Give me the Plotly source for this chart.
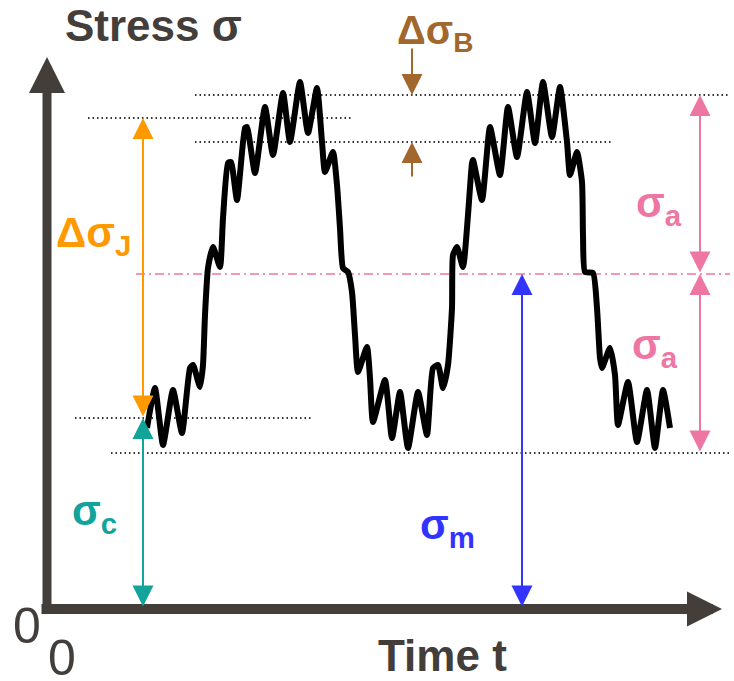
import plotly.graph_objects as go

# ---------------- data (time t, stress sigma) ----------------
time_t = [102, 110, 118, 128, 137, 145, 148, 155, 158, 160, 163, 168, 175, 178, 183, 186,
          192, 200, 202, 210, 220, 228, 238, 245, 255, 263, 272, 277, 280, 288, 292, 295,
          298, 303, 307, 310, 313, 322, 325, 328, 340, 347, 355, 363, 373, 382, 388, 393,
          398, 403, 407, 408, 412, 418, 423, 427, 428, 437, 445, 455, 463, 472, 482, 490,
          498, 507, 515, 522, 525, 532, 537, 538, 540, 548, 552, 555, 557, 565, 570, 573,
          583, 592, 602, 610, 618, 625]
stress = [180, 220, 163, 218, 175, 240, 243, 221, 243, 293, 340, 361, 341, 390, 445, 446,
          408, 480, 481, 435, 501, 453, 515, 466, 526, 475, 520, 466, 436, 456, 423, 380,
          340, 336, 316, 273, 236, 261, 230, 186, 228, 170, 216, 160, 216, 173, 240, 243,
          220, 243, 300, 353, 361, 341, 393, 445, 448, 408, 481, 433, 501, 451, 516, 465,
          526, 471, 521, 466, 433, 456, 426, 373, 336, 335, 300, 250, 240, 260, 233, 183,
          226, 166, 218, 160, 218, 180]

# characteristic stress levels
sigma_max = 513      # upper peak level
sigma_j_top = 490    # top of the jump range
sigma_b_low = 466    # lower bound of the burst band
sigma_mean = 334     # mean stress
sigma_c = 190        # stress at the start
sigma_min = 155      # lower peak level

# time positions of the dimension arrows
t_arrow_j = 98
t_arrow_m = 477
t_arrow_a = 655
t_arrow_b = 367
b_arrow_tails = [561, 430]

# axis extents
t_axis_end = 677
s_axis_end = 551

# reference line extents (level, t_start, t_end)
dotted_levels = [sigma_max, sigma_j_top, sigma_b_low, sigma_c, sigma_min]
dotted_starts = [150, 43, 150, 30, 66]
dotted_ends = [685, 308, 567, 268, 685]
mean_start, mean_end = 91, 685

AXIS = "#433E3A"
ORANGE = "#FF9900"
TEAL = "#12A39B"
BLUE = "#3333FF"
PINK = "#EE76A3"
BROWN = "#A2672D"
FONT = "Liberation Sans, Arial, sans-serif"

fig = go.Figure()

# dotted reference lines
for lvl, a, b in zip(dotted_levels, dotted_starts, dotted_ends):
    fig.add_trace(go.Scatter(x=[a, b], y=[lvl, lvl], mode="lines",
                             line=dict(color="#333333", width=2, dash="1.5px,3px"),
                             hoverinfo="skip", showlegend=False))
# mean line (dash-dot)
fig.add_trace(go.Scatter(x=[mean_start, mean_end], y=[sigma_mean, sigma_mean], mode="lines",
                         line=dict(color=PINK, width=1.5, dash="9px,4px,2px,4px"),
                         hoverinfo="skip", showlegend=False))

# stress signal
fig.add_trace(go.Scatter(x=time_t, y=stress, mode="lines",
                         line=dict(color="black", width=6, shape="spline", smoothing=0.5),
                         hoverinfo="skip", showlegend=False))


def arrow(x0, y0, x1, y1, color, width, size, both=True, head=2):
    fig.add_annotation(x=x1, y=y1, ax=x0, ay=y0, xref="x", yref="y", axref="x", ayref="y",
                       text="", showarrow=True, arrowhead=head, startarrowhead=head,
                       arrowside="end+start" if both else "end",
                       arrowwidth=width, arrowsize=size, startarrowsize=size,
                       arrowcolor=color, standoff=0, startstandoff=0)


# axes
arrow(-5, -1, t_axis_end, -1, AXIS, 10, 0.7, both=False)
arrow(2, -6, 2, s_axis_end, AXIS, 9, 0.8, both=False)

# dimension arrows
arrow(t_arrow_j, sigma_c, t_arrow_j, sigma_j_top, ORANGE, 2, 2.1)
arrow(t_arrow_j, 0, t_arrow_j, sigma_c, TEAL, 2, 2.1)
arrow(t_arrow_m, 0, t_arrow_m, sigma_mean, BLUE, 2, 2.1)
arrow(t_arrow_a, sigma_mean, t_arrow_a, sigma_max, PINK, 2, 2.1)
arrow(t_arrow_a, sigma_min, t_arrow_a, sigma_mean, PINK, 2, 2.1)
arrow(t_arrow_b, b_arrow_tails[0], t_arrow_b, sigma_max, BROWN, 2, 2.1, both=False)
arrow(t_arrow_b, b_arrow_tails[1], t_arrow_b, sigma_b_low, BROWN, 2, 2.1, both=False)


def label(x, y, text, color, size, bold=True, family=FONT):
    fig.add_annotation(x=x, y=y, xref="x", yref="y", text=f"<b>{text}</b>" if bold else text,
                       showarrow=False, xanchor="center", yanchor="middle",
                       font=dict(family=family, size=size, color=color))


label(108, 583, "Stress σ", AXIS, 44)
label(397, -47, "Time t", AXIS, 44)
label(-18, -18, "0", AXIS, 50, bold=False)
label(17, -50, "0", AXIS, 50, bold=False)
label(48, 373, "Δσ<sub>J</sub>", ORANGE, 42)
label(49, 95, "σ<sub>c</sub>", TEAL, 42)
label(402, 81, "σ<sub>m</sub>", BLUE, 42)
label(614, 403, "σ<sub>a</sub>", PINK, 42)
label(610, 261, "σ<sub>a</sub>", PINK, 42)
label(390, 575, "Δσ<sub>B</sub>", BROWN, 40)

fig.update_layout(
    width=734, height=681,
    margin=dict(l=0, r=0, t=0, b=0),
    paper_bgcolor="white", plot_bgcolor="white",
    xaxis=dict(range=[-45, 689], visible=False, fixedrange=True),
    yaxis=dict(range=[-73, 608], visible=False, fixedrange=True),
    showlegend=False,
)

fig.write_html("out.html", config={"displayModeBar": False})

# remove the browser's default page margin so the figure sits at the window corner
with open("out.html", encoding="utf-8") as f:
    html = f.read()
html = html.replace("<body>", '<body style="margin:0;padding:0;">', 1)
with open("out.html", "w", encoding="utf-8") as f:
    f.write(html)
